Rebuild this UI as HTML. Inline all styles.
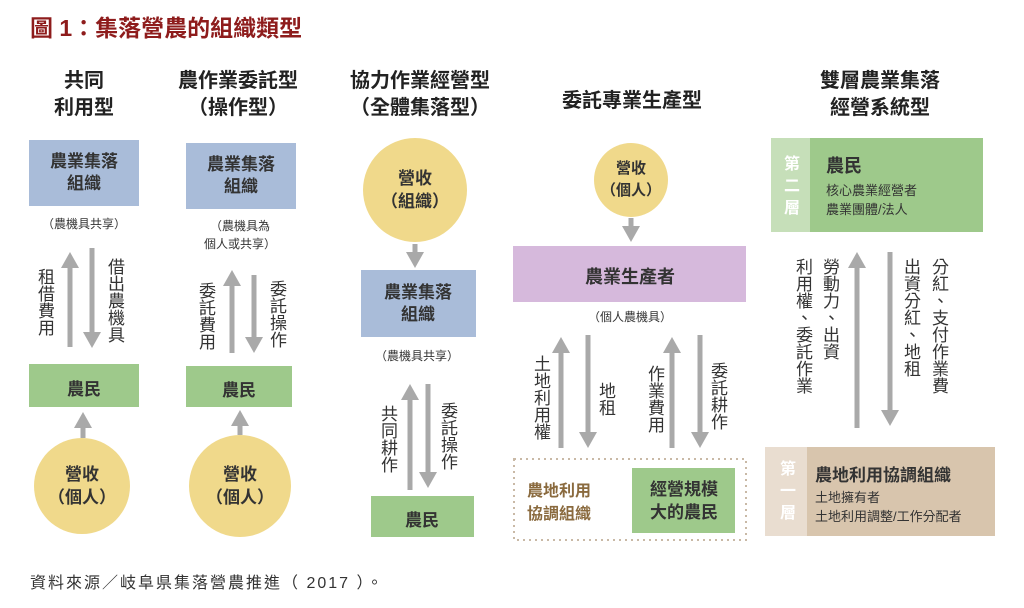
<!DOCTYPE html>
<html><head><meta charset="utf-8"><style>
body{margin:0;width:1024px;height:608px;background:#fff;position:relative;overflow:hidden;font-family:"Liberation Sans","Noto Sans CJK TC",sans-serif;color:#222}
.t{position:absolute;white-space:nowrap}
.c{transform:translateX(-50%);text-align:center}
.v{position:absolute;writing-mode:vertical-rl;text-orientation:upright;font-size:17px;line-height:19px;letter-spacing:0px;color:#333}
svg{position:absolute;left:0;top:0}
</style></head><body>
<svg width="1024" height="608">
<defs><marker id="a" markerWidth="4" markerHeight="4" refX="2" refY="2" orient="auto" markerUnits="strokeWidth"><path d="M0,0.2 L3.2,2 L0,3.8z" fill="#a9a9a9"/></marker></defs>
<g fill="#a9bcd9">
<rect x="29" y="140" width="110" height="66"/><rect x="186" y="143" width="110" height="66"/><rect x="361" y="270" width="115" height="67"/></g>
<g fill="#9ec98b">
<rect x="29" y="364" width="110" height="43"/><rect x="186" y="366" width="106" height="41"/><rect x="371" y="496" width="103" height="41"/><rect x="632" y="468" width="103" height="65"/>
<rect x="810" y="138" width="173" height="94"/></g>
<rect x="771" y="138" width="39" height="94" fill="#c6dfb9"/>
<rect x="807" y="447" width="188" height="89" fill="#d8c5ad"/>
<rect x="765" y="447" width="42" height="89" fill="#e9ddd0"/>
<rect x="513" y="246" width="233" height="56" fill="#d6b9dc"/>
<g fill="#f0d98b">
<circle cx="82" cy="486" r="48"/><circle cx="240" cy="486" r="51"/><circle cx="415" cy="190" r="52"/><circle cx="631" cy="180" r="37"/></g>
<rect x="514" y="459" width="232" height="81" fill="none" stroke="#c9b9a6" stroke-width="2" stroke-dasharray="2,4"/>
<g stroke="#a9a9a9" stroke-width="5" marker-end="url(#a)">
<line x1="70" y1="347" x2="70" y2="258"/><line x1="92" y1="248" x2="92" y2="342"/>
<line x1="83" y1="438" x2="83" y2="418"/>
<line x1="232" y1="353" x2="232" y2="276"/><line x1="254" y1="275" x2="254" y2="347"/>
<line x1="240" y1="435" x2="240" y2="416"/>
<line x1="415" y1="244" x2="415" y2="262"/>
<line x1="410" y1="490" x2="410" y2="390"/><line x1="428" y1="384" x2="428" y2="482"/>
<line x1="631" y1="218" x2="631" y2="236"/>
<line x1="561" y1="448" x2="561" y2="343"/><line x1="588" y1="335" x2="588" y2="442"/>
<line x1="672" y1="448" x2="672" y2="343"/><line x1="700" y1="335" x2="700" y2="442"/>
<line x1="857" y1="428" x2="857" y2="258"/><line x1="890" y1="252" x2="890" y2="420"/>
</g>
</svg>
<div class="t" style="left:30px;top:9px;font-size:23px;font-weight:bold;color:#8e1c1c">圖 1：集落營農的組織類型</div>
<div class="t c" style="left:84px;top:68px;font-size:20px;line-height:27px;font-weight:bold">共同<br>利用型</div>
<div class="t c" style="left:238px;top:68px;font-size:20px;line-height:27px;font-weight:bold">農作業委託型<br>（操作型）</div>
<div class="t c" style="left:420px;top:68px;font-size:20px;line-height:27px;font-weight:bold">協力作業經營型<br>（全體集落型）</div>
<div class="t c" style="left:632px;top:84px;font-size:20px;font-weight:bold">委託專業生產型</div>
<div class="t c" style="left:880px;top:68px;font-size:20px;line-height:27px;font-weight:bold">雙層農業集落<br>經營系統型</div>

<div class="t c" style="left:84px;top:151px;font-size:17px;line-height:22px;font-weight:bold;color:#333">農業集落<br>組織</div>
<div class="t c" style="left:241px;top:154px;font-size:17px;line-height:22px;font-weight:bold;color:#333">農業集落<br>組織</div>
<div class="t c" style="left:418px;top:282px;font-size:17px;line-height:22px;font-weight:bold;color:#333">農業集落<br>組織</div>
<div class="t c" style="left:84px;top:215px;font-size:12px;color:#333">（農機具共享）</div>
<div class="t c" style="left:240px;top:217px;font-size:12px;line-height:18px;color:#333">（農機具為<br>個人或共享）</div>
<div class="t c" style="left:417px;top:347px;font-size:12px;color:#333">（農機具共享）</div>
<div class="t c" style="left:630px;top:308px;font-size:12px;color:#333">（個人農機具）</div>

<div class="t c" style="left:84px;top:375px;font-size:17px;font-weight:bold;color:#333">農民</div>
<div class="t c" style="left:239px;top:376px;font-size:17px;font-weight:bold;color:#333">農民</div>
<div class="t c" style="left:422px;top:506px;font-size:17px;font-weight:bold;color:#333">農民</div>

<div class="t c" style="left:82px;top:463px;font-size:17px;line-height:23px;font-weight:bold;color:#333">營收<br>（個人）</div>
<div class="t c" style="left:240px;top:463px;font-size:17px;line-height:23px;font-weight:bold;color:#333">營收<br>（個人）</div>
<div class="t c" style="left:415px;top:167px;font-size:17px;line-height:23px;font-weight:bold;color:#333">營收<br>（組織）</div>
<div class="t c" style="left:631px;top:158px;font-size:15px;line-height:22px;font-weight:bold;color:#333">營收<br>（個人）</div>
<div class="t c" style="left:630px;top:263px;font-size:18px;font-weight:bold;color:#333">農業生產者</div>

<div class="v" style="left:35px;top:268px">租借費用</div>
<div class="v" style="left:105px;top:258px">借出農機具</div>
<div class="v" style="left:196px;top:282px">委託費用</div>
<div class="v" style="left:267px;top:280px">委託操作</div>
<div class="v" style="left:378px;top:405px">共同耕作</div>
<div class="v" style="left:438px;top:402px">委託操作</div>
<div class="v" style="left:531px;top:355px">土地利用權</div>
<div class="v" style="left:596px;top:382px">地租</div>
<div class="v" style="left:645px;top:365px">作業費用</div>
<div class="v" style="left:708px;top:362px">委託耕作</div>
<div class="v" style="left:793px;top:258px">利用權、委託作業</div>
<div class="v" style="left:820px;top:258px">勞動力、出資</div>
<div class="v" style="left:901px;top:258px">出資分紅、地租</div>
<div class="v" style="left:929px;top:258px">分紅、支付作業費</div>

<div class="t" style="left:527px;top:480px;font-size:16px;line-height:23px;color:#8a6a3e;font-weight:bold">農地利用<br>協調組織</div>
<div class="t c" style="left:684px;top:478px;font-size:17px;line-height:23px;font-weight:bold;color:#333">經營規模<br>大的農民</div>

<div class="v" style="left:780px;top:155px;color:#fff;font-weight:bold;font-size:16px;line-height:18px;letter-spacing:6px">第二層</div>
<div class="t" style="left:826px;top:152px;font-size:18px;font-weight:bold;color:#333">農民</div>
<div class="t" style="left:826px;top:181px;font-size:13px;line-height:19px;color:#333">核心農業經營者<br>農業團體/法人</div>
<div class="v" style="left:776px;top:460px;color:#fff;font-weight:bold;font-size:16px;line-height:18px;letter-spacing:6px">第一層</div>
<div class="t" style="left:815px;top:461px;font-size:17px;font-weight:bold;color:#333">農地利用協調組織</div>
<div class="t" style="left:815px;top:488px;font-size:13px;line-height:19px;color:#333">土地擁有者<br>土地利用調整/工作分配者</div>

<div class="t" style="left:30px;top:569px;font-size:16px;letter-spacing:2px;color:#333">資料來源／岐阜県集落營農推進（ 2017 ）。</div>
</body></html>
